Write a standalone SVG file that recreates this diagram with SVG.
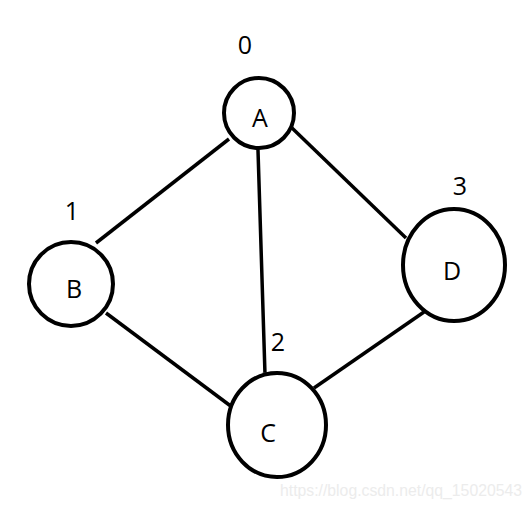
<svg xmlns="http://www.w3.org/2000/svg" width="532" height="507" viewBox="0 0 532 507">
<style>
.n{fill:#fff;stroke:#000;stroke-width:4}
.e{stroke:#000;stroke-width:3.5;fill:none}
.t{font-family:"Open Sans","Noto Sans","DejaVu Sans",sans-serif;font-size:25px;fill:#000;text-anchor:middle}
.w{font-family:"Liberation Sans",Arial,sans-serif;font-size:16px;fill:#ececec}
</style>
<rect width="532" height="507" fill="#fff"/>
<g id="edges">
<line class="e" x1="229" y1="139" x2="96" y2="243"/>
<line class="e" x1="258" y1="150" x2="265" y2="374"/>
<line class="e" x1="292" y1="128" x2="406" y2="238"/>
<line class="e" x1="106" y1="313" x2="236" y2="410"/>
<line class="e" x1="314" y1="388" x2="424" y2="312"/>
<rect x="263" y="373" width="4" height="4" fill="#fff" stroke="#555" stroke-width="1"/>
</g>
<g id="A"><circle class="n" cx="259" cy="113" r="35"/><text class="t" x="260" y="127">A</text><text class="t" x="245" y="54">0</text></g>
<g id="B"><circle class="n" cx="71" cy="284" r="42"/><text class="t" x="74" y="298">B</text><text class="t" x="72" y="220">1</text></g>
<g id="C"><ellipse class="n" cx="277" cy="425" rx="49" ry="52"/><text class="t" x="268" y="442">C</text><text class="t" x="278" y="351">2</text></g>
<g id="D"><ellipse class="n" cx="454" cy="265" rx="51" ry="56"/><text class="t" x="452" y="280">D</text><text class="t" x="460" y="195">3</text></g>
<text class="w" x="280" y="496" textLength="242" lengthAdjust="spacingAndGlyphs">https://blog.csdn.net/qq_15020543</text>
</svg>
